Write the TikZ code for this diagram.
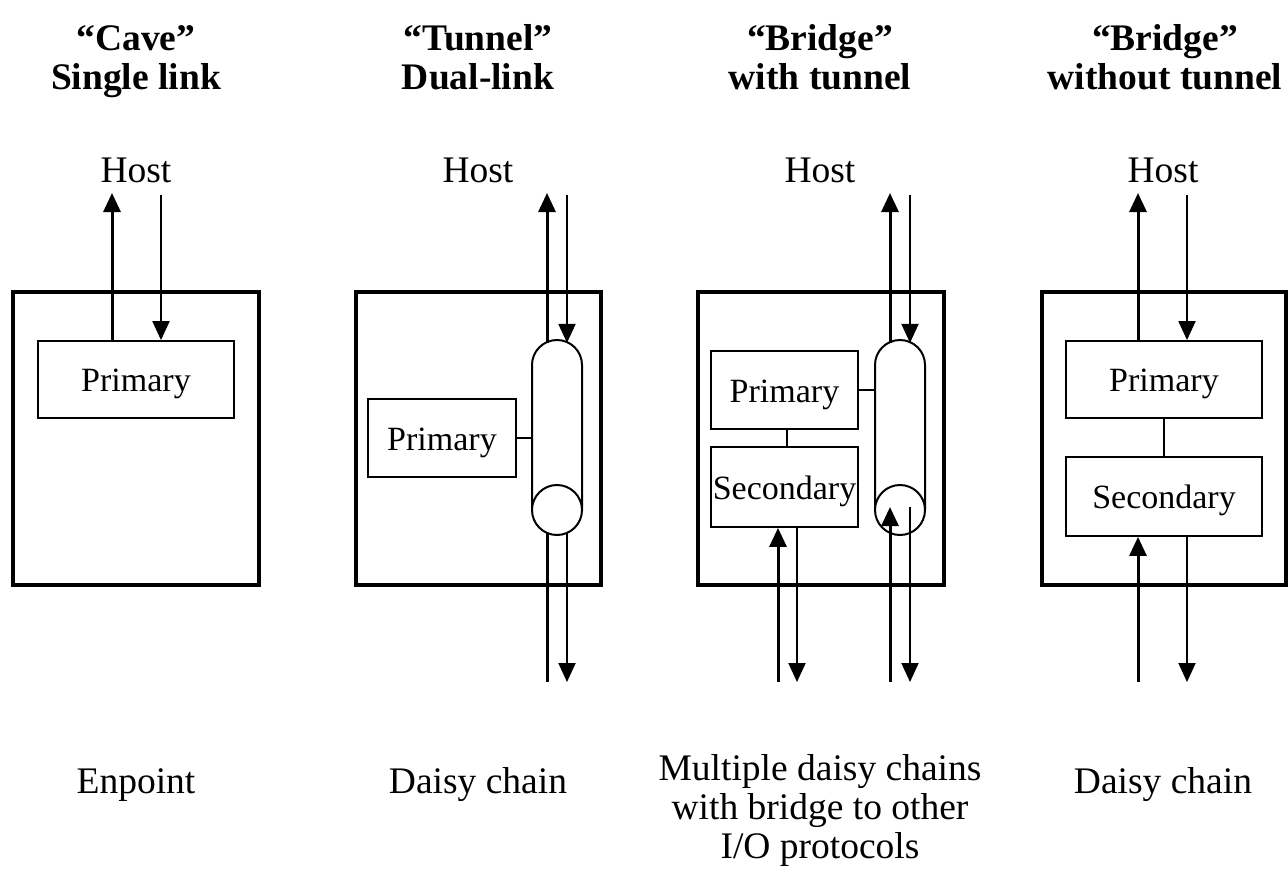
\documentclass[tikz,border=0pt]{standalone}
\usepackage{fontspec}
\setmainfont{Liberation Serif}
\usetikzlibrary{arrows.meta}
\begin{document}
\begin{tikzpicture}[x=1pt,y=-1pt,
  outer/.style={draw, line width=4pt, inner sep=0pt},
  inner/.style={draw, line width=1.8pt, inner sep=0pt, text height=24pt, text depth=0pt, font=\fontsize{34}{36}\selectfont},
  ttl/.style={font=\bfseries\fontsize{37.5}{39}\selectfont, anchor=base, inner sep=0pt},
  lbl/.style={font=\fontsize{37.5}{39}\selectfont, anchor=base, inner sep=0pt},
  wire/.style={line width=3pt},
  link/.style={line width=1.8pt},
  arru/.style={line width=3pt, -{Triangle[length=19pt,width=17pt]}},
  arrd/.style={line width=2pt, -{Triangle[length=19pt,width=17pt]}},
  cyl/.style={line width=2pt}]
\useasboundingbox (0,0) rectangle (1288,870);

% titles
\node[ttl] (t1a) at (136,50) {“Cave”};
\node[ttl] (t1b) at (136,89) {Single link};
\node[ttl] (t2a) at (478,50) {“Tunnel”};
\node[ttl] (t2b) at (478,89) {Dual-link};
\node[ttl] (t3a) at (820,50) {“Bridge”};
\node[ttl] (t3b) at (820,89) {with tunnel};
\node[ttl] (t4a) at (1165,50) {“Bridge”};
\node[ttl] (t4b) at (1165,89) {without tunnel};

% host labels
\node[lbl] (h1) at (136,182) {Host};
\node[lbl] (h2) at (478,182) {Host};
\node[lbl] (h3) at (820,182) {Host};
\node[lbl] (h4) at (1163,182) {Host};

% bottom labels
\node[lbl] (b1) at (136,793) {Enpoint};
\node[lbl] (b2) at (478,793) {Daisy chain};
\node[lbl] (b3a) at (820,780) {Multiple daisy chains};
\node[lbl] (b3b) at (820,819) {with bridge to other};
\node[lbl] (b3c) at (820,858) {I/O protocols};
\node[lbl] (b4) at (1163,793) {Daisy chain};

% outer boxes
\node[outer, minimum width=246pt, minimum height=293pt] (cbox) at (136,438.5) {};
\node[outer, minimum width=245pt, minimum height=293pt] (tbox) at (478.5,438.5) {};
\node[outer, minimum width=246pt, minimum height=293pt] (bbox) at (821,438.5) {};
\node[outer, minimum width=244pt, minimum height=293pt] (nbox) at (1164,438.5) {};

% inner boxes
\node[inner, minimum width=196pt, minimum height=77pt] (cprim) at (136,379.5) {Primary};
\node[inner, minimum width=148pt, minimum height=78pt] (tprim) at (442,438) {Primary};
\node[inner, minimum width=147pt, minimum height=78pt] (bprim) at (784.5,390) {Primary};
\node[inner, minimum width=147pt, minimum height=80pt] (bsec) at (784.5,487) {Secondary};
\node[inner, minimum width=196pt, minimum height=77pt] (nprim) at (1164,379.5) {Primary};
\node[inner, minimum width=196pt, minimum height=79pt] (nsec) at (1164,496.5) {Secondary};

% cylinders (tunnels)
\coordinate (tcyltop) at (557,365);
\coordinate (tcylbot) at (557,510);
\coordinate (bcyltop) at (900,365);
\coordinate (bcylbot) at (900,510);
\draw[cyl, fill=white] (532,510) -- (532,365) arc[start angle=180, end angle=0, radius=25pt] -- (582,510);
\draw[cyl, fill=white] (tcylbot) circle[radius=25pt];
\draw[cyl, fill=white] (875,510) -- (875,365) arc[start angle=180, end angle=0, radius=25pt] -- (925,510);
\draw[cyl, fill=white] (bcylbot) circle[radius=25pt];

% free ends
\coordinate (cu) at (112,193);  \coordinate (cd) at (161,195);
\coordinate (tu) at (547,193);  \coordinate (td) at (567,195);
\coordinate (tbl) at (547,682); \coordinate (tbr) at (567,682);
\coordinate (bu) at (890,193);  \coordinate (bd) at (910,195);
\coordinate (bbl) at (890,682); \coordinate (bbr) at (910,682);
\coordinate (bsl) at (778,682); \coordinate (bsr) at (797,682);
\coordinate (nu) at (1138,193); \coordinate (nd) at (1187,195);
\coordinate (nbl) at (1138,682); \coordinate (nbr) at (1187,682);

% Cave
\draw[arru] (cprim.north -| cu) -- (cu);
\draw[arrd] (cd) -- (cprim.north -| cd);

% Tunnel
\draw[arru] (547,342.9) -- (tu);
\draw[arrd] (td) -- (567,342.9);
\draw[wire] (547,532.9) -- (tbl);
\draw[arrd] (567,532.9) -- (tbr);
\draw[link] (tprim.east) -- (532,438);

% Bridge with tunnel
\draw[arru] (890,342.9) -- (bu);
\draw[arrd] (bd) -- (910,342.9);
\draw[arru] (bbl) -- (890,507);
\draw[arrd] (910,507) -- (bbr);
\draw[link] (bprim.east) -- (875,390);
\draw[link] (bprim.south -| 787,0) -- (bsec.north -| 787,0);
\draw[arru] (bsl) -- (bsec.south -| bsl);
\draw[arrd] (bsec.south -| bsr) -- (bsr);

% Bridge without tunnel
\draw[arru] (nprim.north -| nu) -- (nu);
\draw[arrd] (nd) -- (nprim.north -| nd);
\draw[link] (nprim.south) -- (nsec.north);
\draw[arru] (nbl) -- (nsec.south -| nbl);
\draw[arrd] (nsec.south -| nbr) -- (nbr);
\end{tikzpicture}
\end{document}
